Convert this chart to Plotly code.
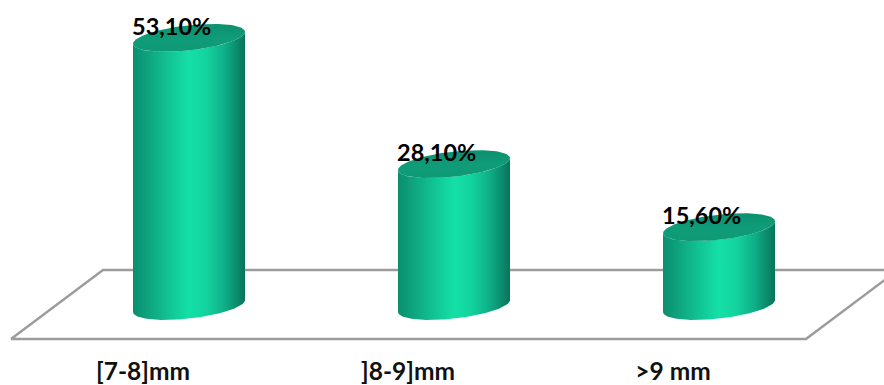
import numpy as np
import plotly.graph_objects as go

categories = ["[7-8]mm", "]8-9]mm", ">9 mm"]
values = [53.10, 28.10, 15.60]

W, H, BOTTOM = 884, 385, 28
PX_X = 265.0    # pixels per category step
PX_Y = 5.05     # pixels per percentage point
X0_PX, Y0_PX = 189.0, 306.0

x_range = [-X0_PX / PX_X, (W - X0_PX) / PX_X]
y_range = [-(H - BOTTOM - Y0_PX) / PX_Y, Y0_PX / PX_Y]

# Cylinder geometry, in axis units
RADIUS = 56 / PX_X
DEPTH = 12.6 / PX_Y
TILT = 6.0 / PX_Y

# Floor plane corners, in axis units
floor_x = [(v - X0_PX) / PX_X for v in (11, 103, 898, 806, 11)]
floor_y = [(Y0_PX - v) / PX_Y for v in (339, 270, 270, 339, 339)]

SIDE_SCALE = [
    [0.00, "#0b8f6d"], [0.10, "#0d9e7a"], [0.30, "#11c090"], [0.50, "#14e0a8"],
    [0.66, "#13d29d"], [0.82, "#0fae86"], [0.93, "#0b8a6b"], [1.00, "#08745a"],
]
TOP_SCALE = [[0.0, "#0f9a76"], [0.5, "#0f9c78"], [1.0, "#0d9170"]]


def rim(cx, level, t):
    return cx + RADIUS * np.cos(t), level - DEPTH * np.sin(t) + TILT * np.cos(t)


fig = go.Figure()
fig.add_trace(go.Scatter(
    x=floor_x, y=floor_y, mode="lines",
    line=dict(color="#9c9c9c", width=2.4), hoverinfo="skip",
))

for i, (cat, v) in enumerate(zip(categories, values)):
    front = np.linspace(np.pi, 0, 80)
    back = np.linspace(0, np.pi, 80)
    bx, by = rim(i, 0, front)
    tx, ty = rim(i, v, back)
    fig.add_trace(go.Scatter(
        x=np.r_[bx, tx, bx[0]], y=np.r_[by, ty, by[0]],
        mode="lines", line=dict(width=0), fill="toself", name=cat,
        fillgradient=dict(type="horizontal", colorscale=SIDE_SCALE,
                          start=i - RADIUS, stop=i + RADIUS),
    ))
    ex, ey = rim(i, v, np.linspace(0, 2 * np.pi, 160))
    fig.add_trace(go.Scatter(
        x=ex, y=ey, mode="lines", line=dict(width=0), fill="toself",
        fillgradient=dict(type="vertical", colorscale=TOP_SCALE,
                          start=v - DEPTH, stop=v + DEPTH),
        hoverinfo="skip",
    ))
    fig.add_annotation(
        x=i, y=v, text=f"{v:.2f}".replace(".", ",") + "%", showarrow=False,
        xshift=-18, yshift=12,
        font=dict(family="Lato", size=23.5, color="#000000", weight="bold"),
    )

fig.update_layout(
    width=W, height=H, showlegend=False,
    margin=dict(l=0, r=0, t=0, b=BOTTOM, autoexpand=False),
    paper_bgcolor="white", plot_bgcolor="white",
    font=dict(family="Lato", color="#000000"),
    xaxis=dict(
        range=x_range, automargin=False, showgrid=False, zeroline=False,
        showline=False, ticks="", ticklabelstandoff=-3,
        tickmode="array", tickvals=[i - 46 / PX_X for i in range(len(categories))],
        ticktext=categories,
        tickfont=dict(family="Lato", size=24.5, color="#111111", weight="bold"),
    ),
    yaxis=dict(range=y_range, visible=False),
)
fig.write_html("out.html")
